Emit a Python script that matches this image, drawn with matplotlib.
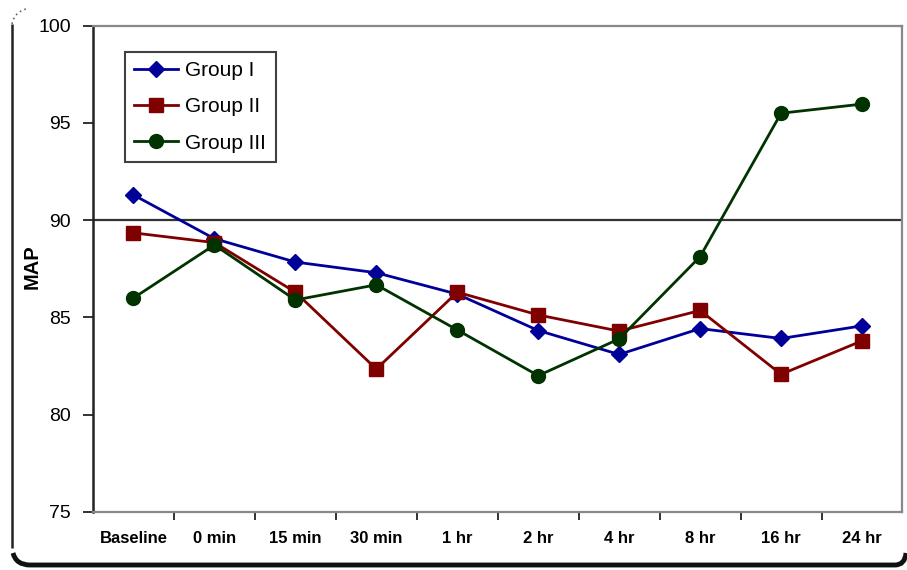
import matplotlib
matplotlib.use("Agg")
import matplotlib.pyplot as plt
from matplotlib.path import Path
from matplotlib.patches import PathPatch

plt.rcParams["font.family"] = ["Liberation Sans", "DejaVu Sans"]

timepoints = ["Baseline", "0 min", "15 min", "30 min", "1 hr", "2 hr",
              "4 hr", "8 hr", "16 hr", "24 hr"]
group_1 = [91.3, 89.05, 87.85, 87.3, 86.2, 84.33, 83.1, 84.43, 83.92, 84.57]
group_2 = [89.35, 88.85, 86.3, 82.35, 86.3, 85.13, 84.3, 85.36, 82.08, 83.8]
group_3 = [86.0, 88.73, 85.9, 86.68, 84.36, 82.01, 83.9, 88.13, 95.5, 95.97]
series_names = ["Group I", "Group II", "Group III"]
reference_level = 90
y_ticks = [75, 80, 85, 90, 95, 100]

W, H = 907, 570
fig = plt.figure(figsize=(W / 100, H / 100), dpi=100)

# plot area in pixel units
left, right, top, bottom = 93, 902.5, 25.7, 512
ax = fig.add_axes([left / W, (H - bottom) / H, (right - left) / W, (bottom - top) / H])

x = list(range(len(timepoints)))
styles = [
    dict(color="#000099", marker="D", markersize=8.5),
    dict(color="#800000", marker="s", markersize=9.5),
    dict(color="#003300", marker="o", markersize=10),
]
for vals, name, st in zip([group_1, group_2, group_3], series_names, styles):
    ax.plot(x, vals, color=st["color"], lw=2, marker=st["marker"],
            markersize=st["markersize"], markerfacecolor=st["color"],
            markeredgecolor=st["color"], label=name, zorder=3)

ax.axhline(reference_level, color="#333333", lw=1.6, zorder=2)

ax.set_xlim(-0.5, len(timepoints) - 0.5)
ax.set_ylim(75, 100)
ax.set_yticks(y_ticks)
ax.set_yticklabels([str(v) for v in y_ticks], fontsize=14)
ax.tick_params(axis="y", direction="out", length=7, width=1.3, color="#222222", pad=9)

ax.set_xticks(x)
ax.set_xticklabels(timepoints, fontsize=12, fontweight="bold")
ax.set_xticks([i + 0.5 for i in x[:-1]], minor=True)
ax.tick_params(axis="x", which="major", length=0, pad=14)
ax.tick_params(axis="x", which="minor", direction="out", length=6, width=1.3, color="#222222")

ax.set_ylabel("MAP", fontsize=14.5, fontweight="bold")
ax.yaxis.set_label_coords(-0.064, 0.504)

ax.spines["left"].set_color("#222222")
ax.spines["left"].set_linewidth(1.8)
for s in ["top", "right", "bottom"]:
    ax.spines[s].set_color("#888888")
    ax.spines[s].set_linewidth(1.6)

leg = ax.legend(loc="upper left", bbox_to_anchor=(0.0395, 0.946), borderaxespad=0,
                fontsize=15, frameon=True, fancybox=False, handlelength=2.1,
                handletextpad=0.35, labelspacing=0.82, borderpad=0.45)
leg.get_frame().set_edgecolor("#111111")
leg.get_frame().set_linewidth(1.5)

# outer rounded frame (left side and shadowed bottom edge)
def to_fig(px, py):
    return (px / W, (H - py) / H)

left_path = Path([to_fig(12, 24), to_fig(12, 548)], [Path.MOVETO, Path.LINETO])
fig.add_artist(PathPatch(left_path, transform=fig.transFigure, fill=False,
                         edgecolor="#222222", lw=1.8))
bottom_path = Path(
    [to_fig(13, 553), to_fig(16, 565), to_fig(30, 565), to_fig(895, 565),
     to_fig(905, 565), to_fig(906, 553)],
    [Path.MOVETO, Path.CURVE3, Path.CURVE3, Path.LINETO, Path.CURVE3, Path.CURVE3])
fig.add_artist(PathPatch(bottom_path, transform=fig.transFigure, fill=False,
                         edgecolor="#111111", lw=3.5))
corner_path = Path([to_fig(12, 24), to_fig(14, 12), to_fig(26, 9)],
                   [Path.MOVETO, Path.CURVE3, Path.CURVE3])
fig.add_artist(PathPatch(corner_path, transform=fig.transFigure, fill=False,
                         edgecolor="#666666", lw=1.2, linestyle=(0, (1, 2))))

fig.savefig("out.png", dpi=100)
